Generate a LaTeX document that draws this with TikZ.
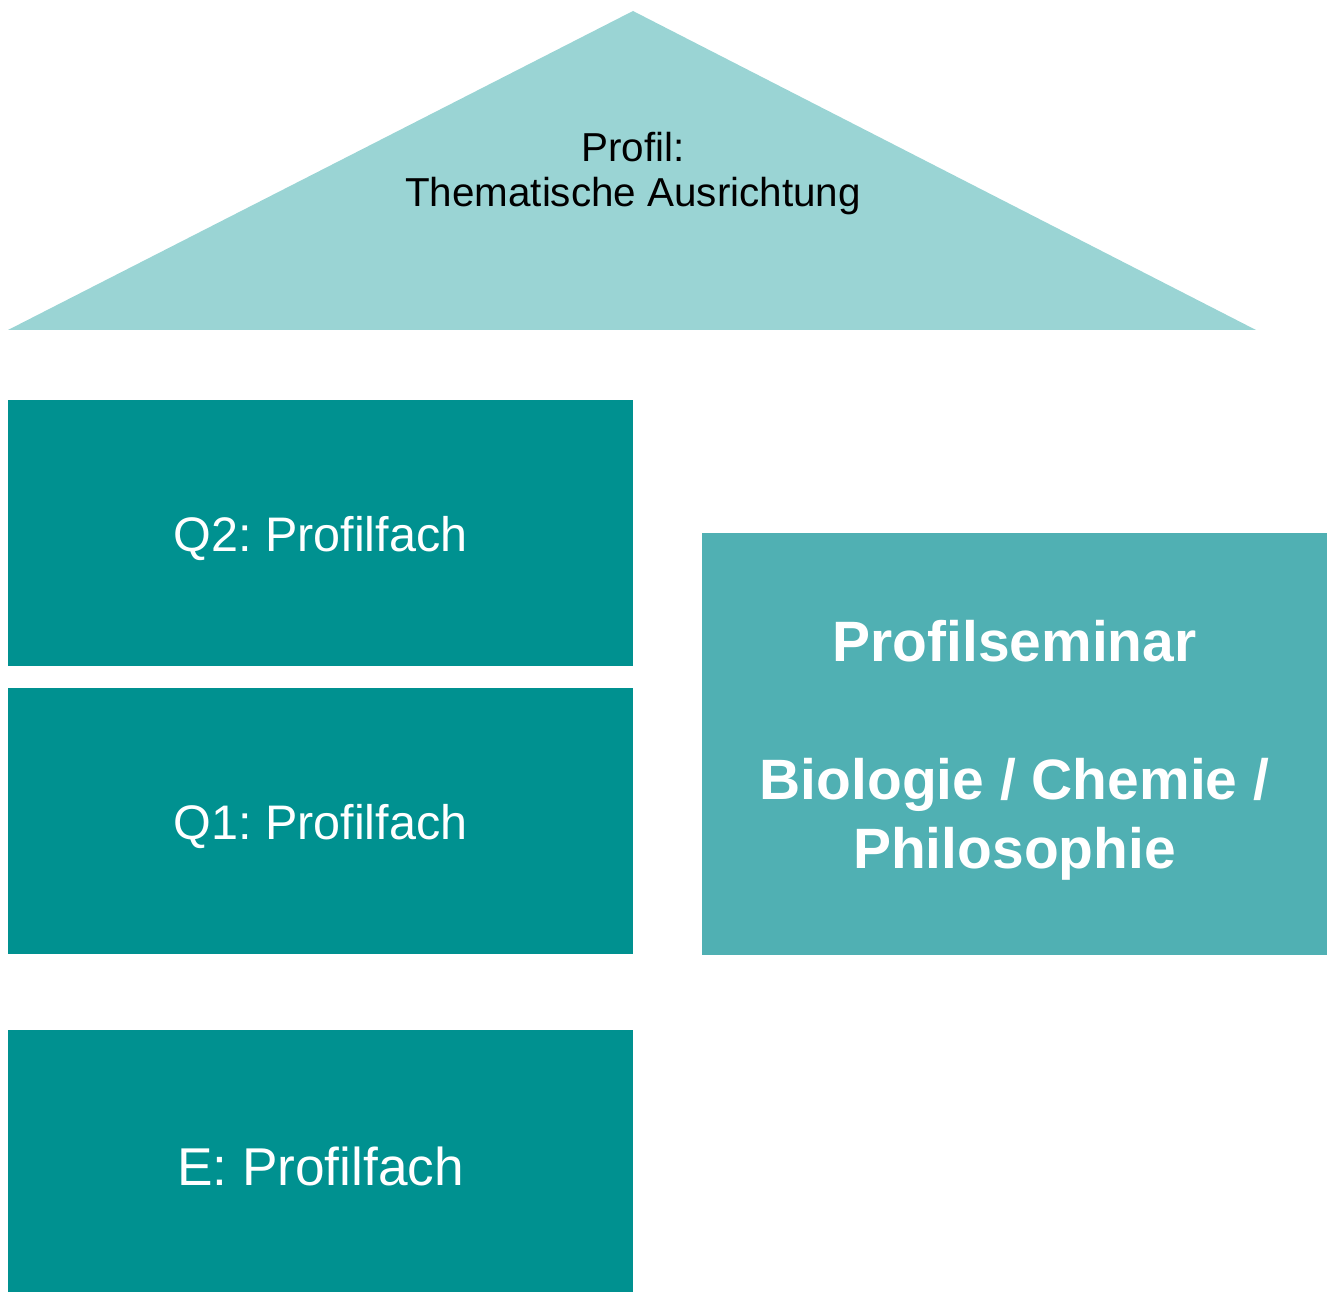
\documentclass[tikz,border=0pt]{standalone}
\usepackage{fontspec}
\setmainfont{Liberation Sans}
\frenchspacing
\definecolor{dachfarbe}{HTML}{9AD4D4}
\definecolor{fachfarbe}{HTML}{009190}
\definecolor{seminarfarbe}{HTML}{50B0B3}

\begin{document}
\begin{tikzpicture}[x=0.02cm,y=-0.02cm,
    fachbox/.style={fill=fachfarbe,text=white,minimum width=625*0.02cm,inner sep=0pt},
    seminarbox/.style={fill=seminarfarbe,text=white,minimum width=625*0.02cm,minimum height=422*0.02cm,inner sep=0pt}]
  \useasboundingbox (0,0) rectangle (1332,1293);

  % Dach
  \coordinate (links) at (8,330);
  \coordinate (spitze) at (633,11);
  \coordinate (rechts) at (1256,330);
  \fill[dachfarbe] (links) -- (spitze) -- (rechts) -- cycle;
  \node[align=center,font=\fontsize{23}{25.6}\selectfont] (profil) at (633,174) {Profil:\\Thematische Ausrichtung};

  % Profilfaecher
  \foreach \name/\y/\h in {q2/533/266, q1/821/266, e/1161/262}
    \node[fachbox,minimum height=\h*0.02cm] (\name) at (320.5,\y) {};
  \foreach \name/\txt/\fs in {q2/Q2: Profilfach/27.6, q1/Q1: Profilfach/27.6, e/E: Profilfach/30.3}
    \node[text=white,font=\fontsize{\fs}{\fs}\selectfont] (\name text) at ([yshift=-0.11cm]\name) {\txt};

  % Seminar
  \node[seminarbox] (seminar) at (1014.5,744) {};
  \node[align=center,text=white,font=\bfseries\fontsize{32.4}{39.3}\selectfont] (seminartext) at (1014.5,750)
    {Profilseminar\\[39.3pt]Biologie / Chemie /\\Philosophie};
\end{tikzpicture}
\end{document}
